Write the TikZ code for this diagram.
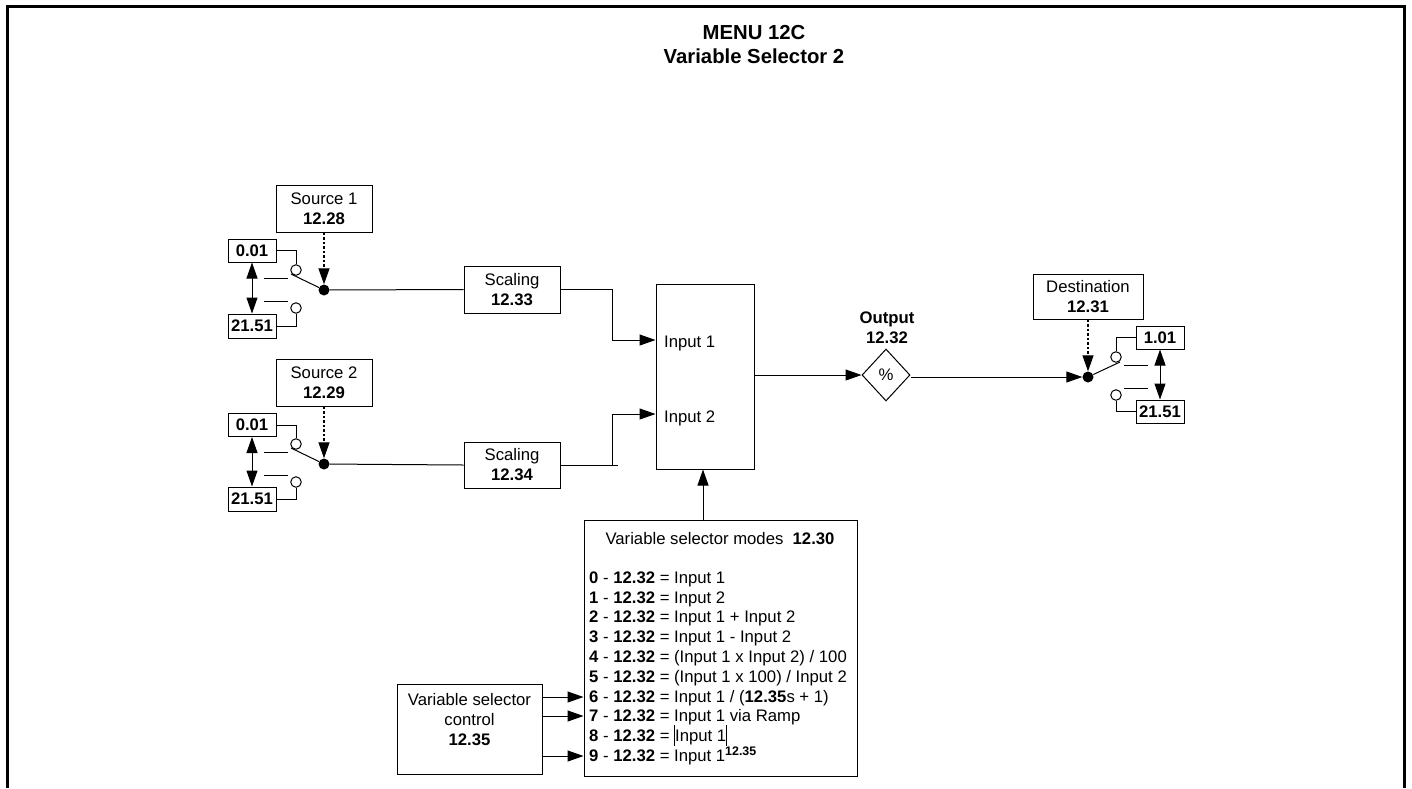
\documentclass[tikz,border=0pt]{standalone}
\usepackage{fontspec}
\setmainfont{Liberation Sans}
\usetikzlibrary{arrows.meta, shapes.geometric}
\tikzset{
  parambox/.style={draw, line width=1pt, inner sep=0pt, align=center},
  pin/.style={draw, circle, fill=white, line width=1pt, inner sep=0pt, minimum size=10.5pt},
  junction/.style={circle, fill=black, inner sep=0pt, minimum size=11pt},
  wire/.style={line width=1pt},
  arr/.style={line width=1pt, -{Triangle[length=16pt, width=11pt]}},
  ctrlarr/.style={line width=1.2pt, dash pattern=on 2.5pt off 2pt, -{Triangle[length=16pt, width=11pt]}},
  bothways/.style={line width=1pt, {Triangle[length=16pt, width=11pt]}-{Triangle[length=16pt, width=11pt]}}
}

\begin{document}
\begin{tikzpicture}[x=1pt, y=-1pt, every node/.style={font=\fontsize{16.7}{20}\selectfont}]
        \useasboundingbox (0,0) rectangle (1412,788);

        % Frame
        \draw[line width=3pt] (7,788) -- (7,6) -- (1404,6) -- (1404,788);

        % Title
        \node[font=\fontsize{20.3}{24}\selectfont\bfseries, align=center] (title) at (754,45) {MENU 12C\\Variable Selector 2};

        % Source 1
        \node[parambox, minimum width=96pt, minimum height=47pt] (sourceA) at (324,208.5) {Source 1\\\textbf{12.28}};
        \node[parambox, minimum width=48pt, minimum height=23pt] (lowA) at (252,250.5) {\textbf{0.01}};
        \node[parambox, minimum width=48pt, minimum height=24pt] (highA) at (252,326) {\textbf{21.51}};
        \node[pin] (pinAa) at (296,270) {};
        \node[pin] (pinAb) at (296,308) {};
        \node[junction] (juncA) at (324,290) {};
        \coordinate (armA) at (291,274);
        \draw[wire] (lowA.east) -| (pinAa.north);
        \draw[wire] (highA.east) -| (pinAb.south);
        \draw[wire] (armA) -- (juncA);
        \draw[wire] (264,278) -- (288,278);
        \draw[wire] (264,301) -- (288,301);
        \draw[bothways] (lowA.south) -- (highA.north);
        \draw[ctrlarr] (sourceA.south) -- (juncA.north);

        % Source 2
        \node[parambox, minimum width=96pt, minimum height=47pt] (sourceB) at (324,382.5) {Source 2\\\textbf{12.29}};
        \node[parambox, minimum width=48pt, minimum height=23pt] (lowB) at (252,425) {\textbf{0.01}};
        \node[parambox, minimum width=48pt, minimum height=24pt] (highB) at (252,499) {\textbf{21.51}};
        \node[pin] (pinBa) at (296,444) {};
        \node[pin] (pinBb) at (296,482) {};
        \node[junction] (juncB) at (324,464) {};
        \coordinate (armB) at (291,448);
        \draw[wire] (lowB.east) -| (pinBa.north);
        \draw[wire] (highB.east) -| (pinBb.south);
        \draw[wire] (armB) -- (juncB);
        \draw[wire] (264,452) -- (288,452);
        \draw[wire] (264,475) -- (288,475);
        \draw[bothways] (lowB.south) -- (highB.north);
        \draw[ctrlarr] (sourceB.south) -- (juncB.north);

        % Scaling
        \node[parambox, minimum width=96pt, minimum height=47pt] (scaleA) at (512,289.5) {Scaling\\\textbf{12.33}};
        \node[parambox, minimum width=96pt, minimum height=46pt] (scaleB) at (512,465) {Scaling\\\textbf{12.34}};
        \draw[wire] (juncA) -- (scaleA.west);
        \draw[wire] (juncB) -- (scaleB.west);

        % Selector block
        \node[parambox, minimum width=98pt, minimum height=185pt] (mainbox) at (705,376.5) {};
        \node[anchor=west, inner sep=0pt] (inputA) at (664,343) {Input 1};
        \node[anchor=west, inner sep=0pt] (inputB) at (664,418) {Input 2};
        \coordinate (feedA) at (664,340);
        \coordinate (feedB) at (664,414);
        \draw[arr] (scaleA.east) -- ++(52,0) |- (mainbox.west |- feedA);
        \draw[wire] (scaleB.east) -- ++(57,0);
        \draw[arr] (612,465) |- (mainbox.west |- feedB);

        % Output
        \node[draw, diamond, line width=1pt, inner sep=0pt, minimum width=48pt, minimum height=52pt] (outflag) at (886,375) {\%};
        \node[font=\fontsize{16.7}{20}\selectfont\bfseries, align=center] (outlabel) at (887,328) {Output\\12.32};
        \draw[arr] (mainbox.east |- outflag) -- (outflag.west);

        % Destination
        \node[parambox, minimum width=110pt, minimum height=45pt] (dest) at (1088,296.5) {Destination\\\textbf{12.31}};
        \node[parambox, minimum width=48pt, minimum height=23pt] (lowD) at (1160,337.5) {\textbf{1.01}};
        \node[parambox, minimum width=48pt, minimum height=23pt] (highD) at (1160,411.5) {\textbf{21.51}};
        \node[pin] (pinDa) at (1116,357) {};
        \node[pin] (pinDb) at (1116,395) {};
        \node[junction] (juncD) at (1088,377) {};
        \coordinate (armD) at (1120,362);
        \draw[wire] (lowD.west) -| (pinDa.north);
        \draw[wire] (highD.west) -| (pinDb.south);
        \draw[wire] (armD) -- (juncD);
        \draw[wire] (1124,365) -- (1148,365);
        \draw[wire] (1124,388) -- (1148,388);
        \draw[bothways] (lowD.south) -- (highD.north);
        \draw[ctrlarr] (dest.south) -- (juncD.north);
        \draw[arr] (outflag.east |- juncD) -- (juncD.west);

        % Modes
        \node[parambox, minimum width=273pt, minimum height=256pt] (modesbox) at (720.5,648) {};
        \node (modestitle) at (720,539) {Variable selector modes\ \ \textbf{12.30}};
        \node[anchor=north west, align=left, inner sep=0pt, font=\fontsize{16.7}{19.8}\selectfont] (modeslist) at (589,571.5) {%
          \textbf{0} - \textbf{12.32} = Input 1\\
          \textbf{1} - \textbf{12.32} = Input 2\\
          \textbf{2} - \textbf{12.32} = Input 1 + Input 2\\
          \textbf{3} - \textbf{12.32} = Input 1 - Input 2\\
          \textbf{4} - \textbf{12.32} = (Input 1 x Input 2) / 100\\
          \textbf{5} - \textbf{12.32} = (Input 1 x 100) / Input 2\\
          \textbf{6} - \textbf{12.32} = Input 1 / (\textbf{12.35}s + 1)\\
          \textbf{7} - \textbf{12.32} = Input 1 via Ramp\\
          \textbf{8} - \textbf{12.32} = \smash{\rule[-4pt]{1pt}{21pt}}Input 1\smash{\rule[-4pt]{1pt}{21pt}}\\
          \textbf{9} - \textbf{12.32} = Input 1\smash{\raisebox{6pt}{\fontsize{12.4}{12}\selectfont\textbf{12.35}}}};
        \coordinate (modesout) at (703,520);
        \draw[arr] (modesout) -- (modesout |- mainbox.south);

        % Control
        \node[parambox, minimum width=145pt, minimum height=90pt] (ctrlbox) at (469.5,729) {};
        \node[align=center] (ctrllabel) at (469.5,720) {Variable selector\\control\\\textbf{12.35}};
        \coordinate (ctrlA) at (542,697);
        \coordinate (ctrlB) at (542,716);
        \coordinate (ctrlC) at (542,756);
        \draw[arr] (ctrlA) -- (modesbox.west |- ctrlA);
        \draw[arr] (ctrlB) -- (modesbox.west |- ctrlB);
        \draw[arr] (ctrlC) -- (modesbox.west |- ctrlC);
      \end{tikzpicture}
\end{document}
